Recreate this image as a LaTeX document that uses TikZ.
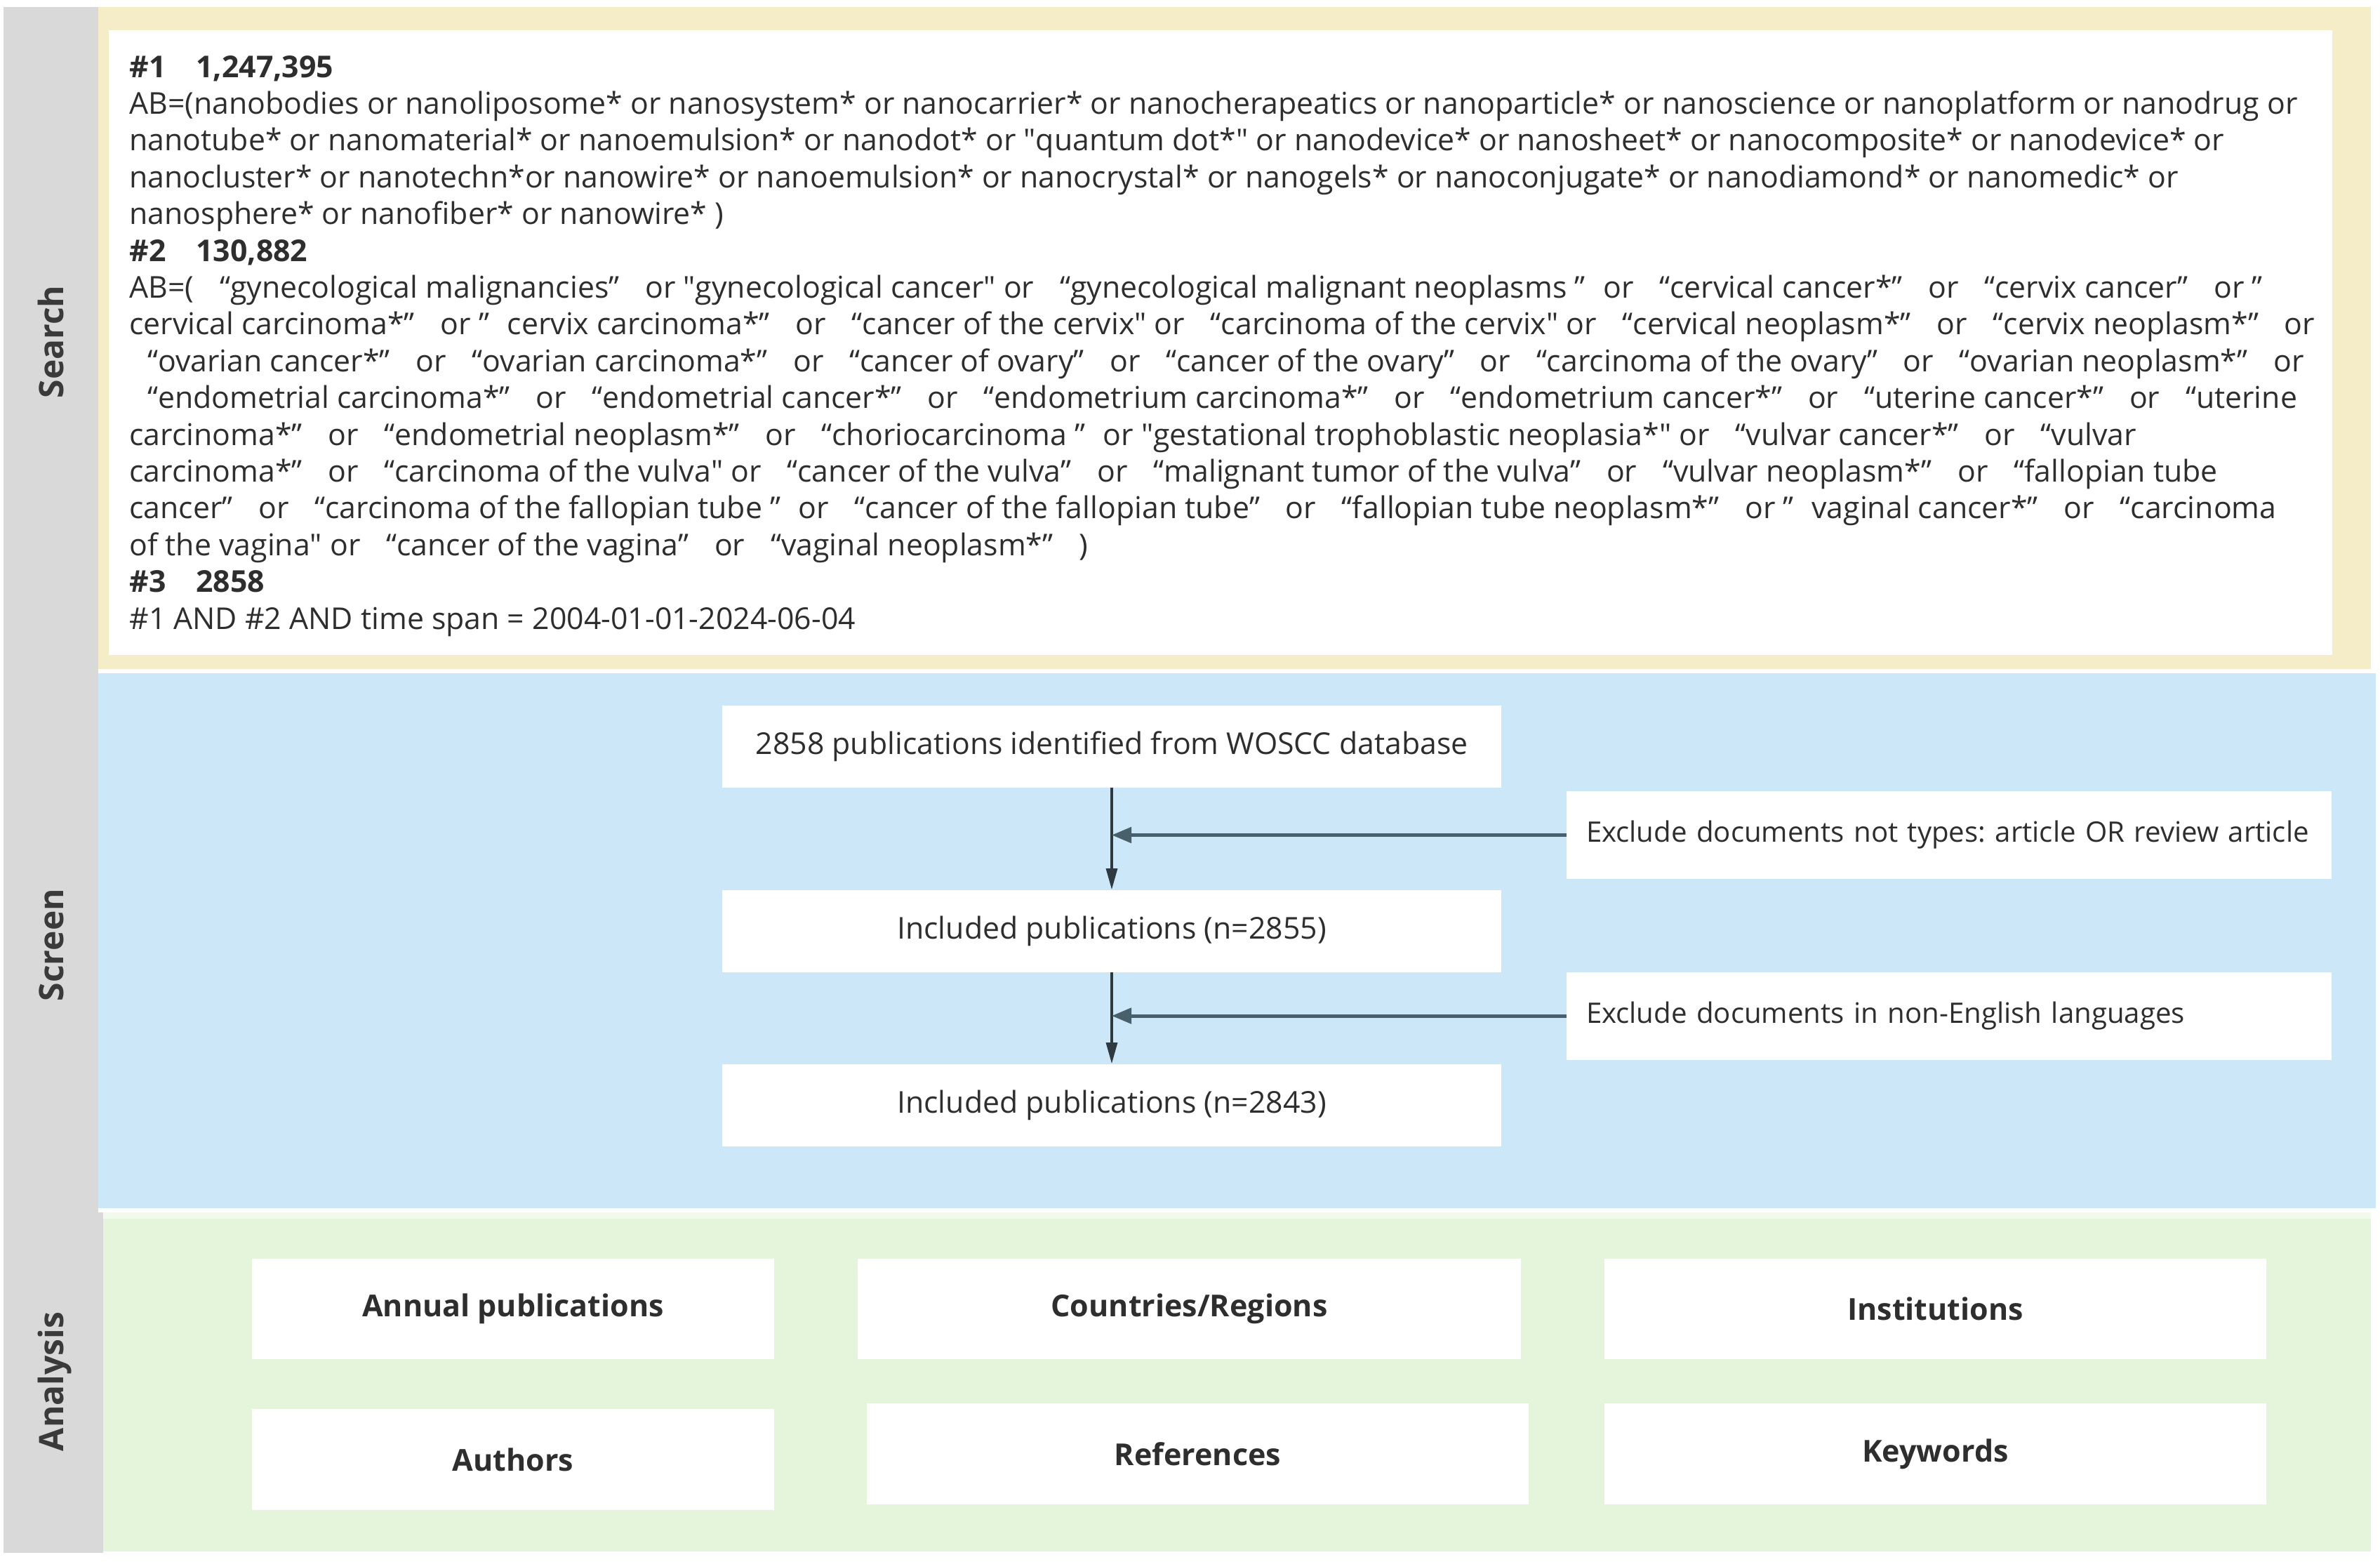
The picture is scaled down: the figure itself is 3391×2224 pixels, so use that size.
\documentclass[tikz,border=0pt]{standalone}
\usepackage{fontspec}
\setmainfont{Open Sans}
\newfontfamily\qf{Open Sans}
\usetikzlibrary{arrows.meta}
\definecolor{grayband}{HTML}{D9D9D9}
\definecolor{yelbg}{HTML}{F5EDC8}
\definecolor{bluebg}{HTML}{CCE8F8}
\definecolor{greenbg}{HTML}{E4F5DC}
\definecolor{txt}{HTML}{2E2E2E}
\definecolor{lbl}{HTML}{3A3A3A}
\definecolor{arr}{HTML}{47606B}
\definecolor{varr}{HTML}{2F3A40}
\newcommand{\oq}{\makebox[0.95em][r]{“}}
\newcommand{\cq}{\makebox[0.95em][l]{”}}
\newcommand{\sq}{{\qf"}}
\frenchspacing
\begin{document}
\frenchspacing
\begin{tikzpicture}[x=0.5pt,y=-0.5pt,
  txtfont/.style={font=\fontsize{21.4}{26}\selectfont, text=txt},
  sline/.style={txtfont, anchor=base west, inner sep=0pt},
  headline/.style={sline, font=\fontsize{21.4}{26}\selectfont\bfseries},
  wbox/.style={fill=white, draw=none, inner sep=0pt, txtfont},
  abox/.style={wbox, font=\fontsize{21.5}{26}\selectfont\bfseries},
  exbox/.style={wbox, minimum width=545pt, text width=517pt, inner xsep=14pt, align=left, minimum height=62.5pt, font=\fontsize{20.1}{26}\selectfont},
  sbox/.style={wbox, minimum width=555pt, minimum height=58.5pt},
  seclabel/.style={rotate=90, anchor=base, inner sep=0pt, text=lbl, font=\fontsize{24}{28}\selectfont\bfseries},
  varrow/.style={draw=varr, line width=1.6pt, -{Triangle[length=15pt,width=8pt]}},
  harrow/.style={draw=arr, line width=2.5pt, -{Triangle[length=14pt,width=11pt]}}
]
\useasboundingbox (0,0) rectangle (3391,2224);
\fill[white] (0,0) rectangle (3391,2224);
% backgrounds
\fill[grayband] (5,10) rectangle (140,2212);
\fill[grayband] (5,1727) rectangle (147,2212);
\fill[yelbg] (140,10) rectangle (3378,953);
\fill[white] (155,43) rectangle (3323,933);
\fill[bluebg] (140,959) rectangle (3385,1721);
\fill[greenbg] (147,1727) rectangle (3378,2210);
\fill[greenbg!50!white] (147,1727) rectangle (3378,1736);
% section labels
\node[seclabel] (lsearch) at (90,487) {Search};
\node[seclabel] (lscreen) at (90,1346) {Screen};
\node[seclabel] (lanalysis) at (90,1968) {Analysis};
% search text
\node[headline] (s1) at (184,110) {\#1\hspace{1em}1,247,395};
\node[sline] (s2) at (184,162.4) {AB=(nanobodies or nanoliposome* or nanosystem* or nanocarrier* or nanocherapeatics or nanoparticle* or nanoscience or nanoplatform or nanodrug or};
\node[sline] (s3) at (184,214.8) {nanotube* or nanomaterial* or nanoemulsion* or nanodot* or \sq{}quantum dot*\sq{} or nanodevice* or nanosheet* or nanocomposite* or nanodevice* or};
\node[sline] (s4) at (184,267.2) {nanocluster* or nanotechn*or nanowire* or nanoemulsion* or nanocrystal* or nanogels* or nanoconjugate* or nanodiamond* or nanomedic* or};
\node[sline] (s5) at (184,319.6) {nanosphere* or nanofiber* or nanowire* )};
\node[headline] (s6) at (184,372) {\#2\hspace{1em}130,882};
\node[sline] (s7) at (184,424.4) {AB=( \oq{}gynecological malignancies\cq{} or \sq{}gynecological cancer\sq{} or \oq{}gynecological malignant neoplasms \cq{}or \oq{}cervical cancer*\cq{} or \oq{}cervix cancer\cq{} or \cq};
\node[sline] (s8) at (184,476.8) {cervical carcinoma*\cq{} or \cq{}cervix carcinoma*\cq{} or \oq{}cancer of the cervix\sq{} or \oq{}carcinoma of the cervix\sq{} or \oq{}cervical neoplasm*\cq{} or \oq{}cervix neoplasm*\cq{} or};
\node[sline] (s9) at (184,529.2) {\oq{}ovarian cancer*\cq{} or \oq{}ovarian carcinoma*\cq{} or \oq{}cancer of ovary\cq{} or \oq{}cancer of the ovary\cq{} or \oq{}carcinoma of the ovary\cq{} or \oq{}ovarian neoplasm*\cq{} or};
\node[sline] (s10) at (184,581.6) {\oq{}endometrial carcinoma*\cq{} or \oq{}endometrial cancer*\cq{} or \oq{}endometrium carcinoma*\cq{} or \oq{}endometrium cancer*\cq{} or \oq{}uterine cancer*\cq{} or \oq{}uterine};
\node[sline] (s11) at (184,634) {carcinoma*\cq{} or \oq{}endometrial neoplasm*\cq{} or \oq{}choriocarcinoma \cq{}or \sq{}gestational trophoblastic neoplasia*\sq{} or \oq{}vulvar cancer*\cq{} or \oq{}vulvar};
\node[sline] (s12) at (184,686.4) {carcinoma*\cq{} or \oq{}carcinoma of the vulva\sq{} or \oq{}cancer of the vulva\cq{} or \oq{}malignant tumor of the vulva\cq{} or \oq{}vulvar neoplasm*\cq{} or \oq{}fallopian tube};
\node[sline] (s13) at (184,738.8) {cancer\cq{} or \oq{}carcinoma of the fallopian tube \cq{}or \oq{}cancer of the fallopian tube\cq{} or \oq{}fallopian tube neoplasm*\cq{} or \cq{}vaginal cancer*\cq{} or \oq{}carcinoma};
\node[sline] (s14) at (184,791.2) {of the vagina\sq{} or \oq{}cancer of the vagina\cq{} or \oq{}vaginal neoplasm*\cq{} )};
\node[headline] (s15) at (184,843.6) {\#3\hspace{1em}2858};
\node[sline] (s16) at (184,896) {\#1 AND \#2 AND time span = 2004-01-01-2024-06-04};
% screen
\node[sbox] (b1) at (1584,1063) {2858 publications identified from WOSCC database};
\node[exbox] (e1) at (2777,1189.5) {Exclude documents not types: article OR review article};
\node[sbox] (b2) at (1584,1326) {Included publications (n=2855)};
\node[exbox] (e2) at (2777,1447) {Exclude documents in non-English languages};
\node[sbox] (b3) at (1584,1574) {Included publications (n=2843)};
\draw[varrow] (b1.south) -- (b2.north);
\draw[varrow] (b2.south) -- (b3.north);
\draw[harrow] (e1.west) -- (e1.west -| b1.south);
\draw[harrow] (e2.west) -- (e2.west -| b2.south);
% analysis
\node[abox, minimum width=372pt, minimum height=71.5pt] (a1) at (731,1864.5) {Annual publications};
\node[abox, minimum width=472.5pt, minimum height=71.5pt] (a2) at (1694.5,1864.5) {Countries/Regions};
\node[abox, minimum width=471.5pt, minimum height=71.5pt] (a3) at (2757.5,1864.5) {Institutions};
\node[abox, minimum width=372pt, minimum height=72pt] (a4) at (731,2079) {Authors};
\node[abox, minimum width=471.5pt, minimum height=72pt] (a5) at (1706.5,2071) {References};
\node[abox, minimum width=471.5pt, minimum height=72pt] (a6) at (2757.5,2071) {Keywords};
\end{tikzpicture}
\end{document}
